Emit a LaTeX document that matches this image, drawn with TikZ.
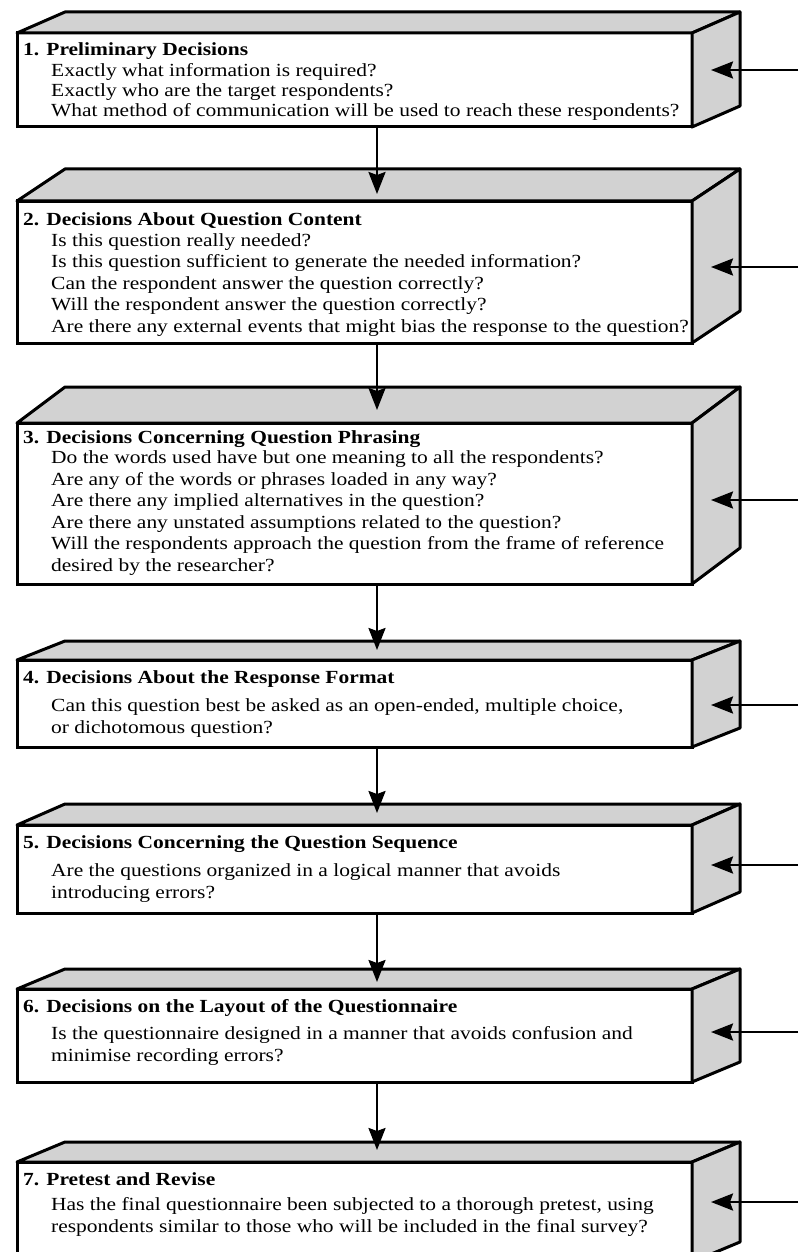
\documentclass[tikz,border=0pt]{standalone}
\usepackage{fontspec}
\setmainfont{Liberation Serif}[FakeStretch=1.16]
\usetikzlibrary{arrows.meta,calc}
\tikzset{
  front/.style={draw, line width=3pt, fill=white, rectangle, anchor=north west,
    minimum width=675pt, outer sep=0pt, inner sep=0pt},
  face/.style={draw, line width=3pt, fill=gray!35, line join=round},
  txt/.style={anchor=base west, inner sep=0pt, align=left,
    font=\fontsize{18.5}{21.5}\selectfont},
  conn/.style={line width=2.5pt, -{Stealth[length=22pt,width=17pt,inset=3pt]}},
}
\newcommand\qbox[4]{%
  \node[front, minimum height=#3pt] (#1) at (17,#2) {};
  \draw[face] (#1.north west) -- ++(48,-#4) -- ($(#1.north east)+(48,-#4)$) -- (#1.north east) -- cycle;
  \draw[face] (#1.north east) -- ++(48,-#4) -- ($(#1.south east)+(48,-#4)$) -- (#1.south east) -- cycle;
}
\begin{document}
\begin{tikzpicture}[x=1pt,y=-1pt]
\useasboundingbox (0,0) rectangle (798,1252);
\clip (0,0) rectangle (798,1252);
\fill[white] (0,0) rectangle (798,1252);
\coordinate (cx) at (377,0);

\qbox{f1}{33}{94}{21}
\qbox{f2}{201}{142}{32}
\qbox{f3}{423}{161}{36}
\qbox{f4}{660}{87}{19}
\qbox{f5}{825}{88}{21}
\qbox{f6}{989}{93}{20}
\qbox{f7}{1162}{100}{20}

% texts (body nodes are placed by the baseline of their last line)
\node[txt] (h1) at (23,56) {\textbf{1. Preliminary Decisions}};
\node[txt, font=\fontsize{18.5}{20}\selectfont] (b1) at (51,117) {Exactly what information is required?\\
Exactly who are the target respondents?\\
What method of communication will be used to reach these respondents?};

\node[txt] (h2) at (23,225) {\textbf{2. Decisions About Question Content}};
\node[txt] (b2) at (51,332) {Is this question really needed?\\
Is this question sufficient to generate the needed information?\\
Can the respondent answer the question correctly?\\
Will the respondent answer the question correctly?\\
Are there any external events that might bias the response to the question?};

\node[txt] (h3) at (23,443) {\textbf{3. Decisions Concerning Question Phrasing}};
\node[txt] (b3) at (51,571) {Do the words used have but one meaning to all the respondents?\\
Are any of the words or phrases loaded in any way?\\
Are there any implied alternatives in the question?\\
Are there any unstated assumptions related to the question?\\
Will the respondents approach the question from the frame of reference\\
desired by the researcher?};

\node[txt] (h4) at (23,683) {\textbf{4. Decisions About the Response Format}};
\node[txt] (b4) at (51,733) {Can this question best be asked as an open-ended, multiple choice,\\
or dichotomous question?};

\node[txt] (h5) at (23,848) {\textbf{5. Decisions Concerning the Question Sequence}};
\node[txt] (b5) at (51,898) {Are the questions organized in a logical manner that avoids\\
introducing errors?};

\node[txt] (h6) at (23,1012) {\textbf{6. Decisions on the Layout of the Questionnaire}};
\node[txt] (b6) at (51,1061) {Is the questionnaire designed in a manner that avoids confusion and\\
minimise recording errors?};

\node[txt] (h7) at (23,1185) {\textbf{7. Pretest and Revise}};
\node[txt] (b7) at (51,1232) {Has the final questionnaire been subjected to a thorough pretest, using\\
respondents similar to those who will be included in the final survey?};

% vertical connectors
\draw[conn] (f1.south -| cx) -- ($(f2.north -| cx)+(0,-7)$);
\draw[conn] (f2.south -| cx) -- ($(f3.north -| cx)+(0,-13)$);
\draw[conn] (f3.south -| cx) -- ($(f4.north -| cx)+(0,-10)$);
\draw[conn] (f4.south -| cx) -- ($(f5.north -| cx)+(0,-12)$);
\draw[conn] (f5.south -| cx) -- ($(f6.north -| cx)+(0,-7)$);
\draw[conn] (f6.south -| cx) -- ($(f7.north -| cx)+(0,-12)$);

% feedback arrows from the right
\coordinate (e1) at (798,70);
\coordinate (e2) at (798,267);
\coordinate (e3) at (798,500);
\coordinate (e4) at (798,705);
\coordinate (e5) at (798,865);
\coordinate (e6) at (798,1032);
\coordinate (e7) at (798,1202);
\foreach \i in {1,...,7}{
  \draw[conn] (e\i) -- ($(f\i.east |- e\i)+(19,0)$);
}
\end{tikzpicture}
\end{document}
